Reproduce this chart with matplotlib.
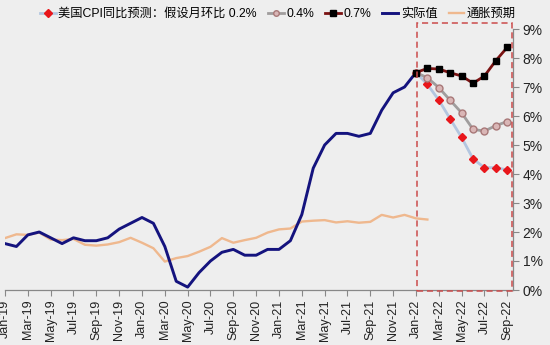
import matplotlib
matplotlib.use("Agg")
import matplotlib.pyplot as plt
from matplotlib.patches import Rectangle

plt.rcParams['font.family'] = ['Liberation Sans', 'Noto Sans CJK SC']

# Monthly labels, Jan-19 .. Sep-22
months = ['Jan', 'Feb', 'Mar', 'Apr', 'May', 'Jun',
          'Jul', 'Aug', 'Sep', 'Oct', 'Nov', 'Dec']
labels = [f"{m}-{y}" for y in ('19', '20', '21', '22') for m in months][:45]

# US CPI YoY actual, Jan-19 .. Jan-22
cpi_actual = [1.6, 1.5, 1.9, 2.0, 1.8, 1.6, 1.8, 1.7, 1.7, 1.8, 2.1, 2.3,
              2.5, 2.3, 1.5, 0.3, 0.1, 0.6, 1.0, 1.3, 1.4, 1.2, 1.2, 1.4,
              1.4, 1.7, 2.6, 4.2, 5.0, 5.4, 5.4, 5.3, 5.4, 6.2, 6.8, 7.0,
              7.5]

# Inflation expectations, Jan-19 .. Feb-22
infl_expect = [1.79, 1.92, 1.90, 1.98, 1.74, 1.72, 1.76, 1.56, 1.53, 1.57, 1.65, 1.80,
               1.63, 1.44, 0.98, 1.10, 1.17, 1.32, 1.49, 1.79, 1.63, 1.72, 1.80, 1.98,
               2.09, 2.12, 2.36, 2.39, 2.41, 2.33, 2.37, 2.32, 2.35, 2.59, 2.50, 2.59,
               2.47, 2.43]

# Forecast paths Jan-22 .. Sep-22 under different MoM assumptions
fc_02 = [7.5, 7.09, 6.55, 5.90, 5.26, 4.52, 4.22, 4.22, 4.14]
fc_04 = [7.5, 7.32, 6.98, 6.54, 6.11, 5.54, 5.48, 5.67, 5.81]
fc_07 = [7.5, 7.64, 7.62, 7.49, 7.38, 7.13, 7.38, 7.91, 8.37]

bg = '#eeeeee'
fig = plt.figure(figsize=(5.5, 3.45), dpi=100, facecolor=bg)
ax = fig.add_axes([5 / 550, 55 / 345, 508 / 550, 261 / 345], facecolor=bg)

x_act = list(range(len(cpi_actual)))
x_exp = list(range(len(infl_expect)))
x_fc = list(range(36, 36 + len(fc_02)))

ax.plot(x_exp, infl_expect, color='#efb88e', lw=1.7, label='通胀预期', zorder=2)
ax.plot(x_act, cpi_actual, color='#14137e', lw=2.1, label='实际值', zorder=3)
ax.plot(x_fc, fc_02, color='#b3c6e0', lw=2, marker='D', ms=4.5,
        mfc='#e8161b', mec='#e8161b', label='美国CPI同比预测：假设月环比 0.2%', zorder=4)
ax.plot(x_fc, fc_04, color='#a09d9d', lw=2, marker='o', ms=5,
        mfc='#d9b6b6', mec='#a87878', mew=1, label='0.4%', zorder=5)
ax.plot(x_fc, fc_07, color='#7a1212', lw=2, marker='s', ms=5,
        mfc='black', mec='black', label='0.7%', zorder=6)

ax.set_xlim(0, 44.5)
ax.set_ylim(0, 9)

ax.set_xticks(range(0, 45, 2))
ax.set_xticklabels(labels[0:45:2], rotation=90, fontsize=9)
ax.yaxis.tick_right()
ax.set_yticks(range(0, 10))
ax.set_yticklabels([f"{v}%" for v in range(0, 10)], fontsize=10)
ax.tick_params(axis='both', colors='#888888', length=4, width=0.8, labelcolor='#222222')
ax.tick_params(axis='x', pad=3)
ax.tick_params(axis='y', pad=3)

for s in ('left', 'top'):
    ax.spines[s].set_visible(False)
for s in ('right', 'bottom'):
    ax.spines[s].set_color('#888888')
    ax.spines[s].set_linewidth(0.9)

# highlight box around the forecast window
box = Rectangle((36.1, -0.05), 8.33, 9.27, fill=False, ec='#cc4b4b',
                ls=(0, (4, 2.5)), lw=1.1, clip_on=False, zorder=7)
ax.add_patch(box)

handles, names = ax.get_legend_handles_labels()
order = [2, 3, 4, 1, 0]
fig.legend([handles[i] for i in order], [names[i] for i in order],
           loc='center', bbox_to_anchor=(278 / 550, 1 - 14 / 345), ncol=5,
           frameon=False, fontsize=8.8, handlelength=1.3, handletextpad=0.2,
           columnspacing=0.9, borderaxespad=0, borderpad=0, markerscale=0.8)

fig.savefig('out.png', dpi=100, facecolor=bg)
